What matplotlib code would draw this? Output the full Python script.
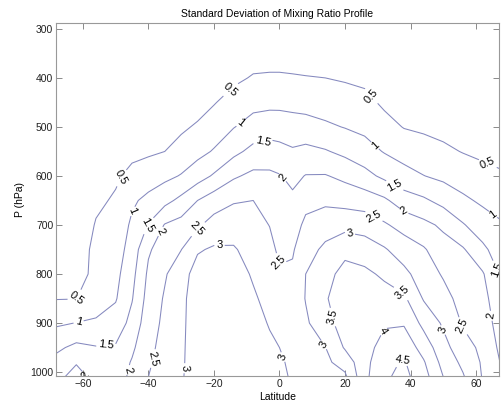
import matplotlib.pyplot as plt
import numpy as np

# MATLAB-like look
plt.rcParams['font.family'] = ['Liberation Sans', 'DejaVu Sans']
plt.rcParams['font.size'] = 7.5

# data: standard deviation of mixing ratio, one profile per latitude
lat = [-69, -62, -56, -50, -45, -40, -35, -30, -25, -20, -14, -8, -3, 0,
       4, 8, 14, 20, 26, 32, 38, 44, 50, 56, 62, 68]
pres = [300, 350, 400, 450, 500, 550, 600, 650, 700, 750, 800, 850, 900, 950, 980, 1010]

sd_by_lat = [
    [0.2, 0.2, 0.2, 0.2, 0.2, 0.2, 0.2, 0.2, 0.2, 0.2, 0.3, 0.48, 0.92, 1.37, 1.62, 1.9],
    [0.2, 0.2, 0.2, 0.2, 0.2, 0.2, 0.2, 0.2, 0.2, 0.2, 0.2, 0.49, 1.01, 1.62, 1.98, 2.1],
    [0.2, 0.2, 0.2, 0.2, 0.2, 0.26, 0.34, 0.42, 0.53, 0.65, 0.7, 0.85, 1.04, 1.53, 1.75, 1.92],
    [0.15, 0.15, 0.15, 0.15, 0.25, 0.35, 0.44, 0.55, 0.65, 0.75, 0.86, 0.96, 1.21, 1.55, 1.7, 1.8],
    [0.15, 0.15, 0.15, 0.2, 0.3, 0.4, 0.61, 0.92, 1.09, 1.22, 1.35, 1.47, 1.66, 1.91, 2.04, 2.1],
    [0.15, 0.15, 0.15, 0.25, 0.35, 0.43, 0.75, 1.13, 1.53, 1.94, 2.09, 2.19, 2.29, 2.38, 2.44, 2.5],
    [0.15, 0.15, 0.15, 0.25, 0.38, 0.5, 0.88, 1.35, 2.03, 2.24, 2.45, 2.55, 2.6, 2.66, 2.7, 2.74],
    [0.15, 0.15, 0.15, 0.3, 0.42, 0.68, 1.03, 1.63, 2.18, 2.49, 2.8, 2.88, 2.9, 2.92, 2.93, 2.95],
    [0.15, 0.15, 0.15, 0.3, 0.56, 0.85, 1.28, 2.0, 2.43, 2.95, 3.2, 3.25, 3.25, 3.25, 3.25, 3.25],
    [0.15, 0.15, 0.25, 0.47, 0.74, 1.04, 1.56, 2.26, 2.69, 3.06, 3.2, 3.28, 3.3, 3.3, 3.3, 3.3],
    [0.15, 0.25, 0.4, 0.69, 0.98, 1.37, 1.93, 2.46, 2.76, 3.05, 3.2, 3.25, 3.28, 3.28, 3.28, 3.28],
    [0.15, 0.3, 0.54, 0.85, 1.2, 1.64, 2.12, 2.5, 2.65, 2.8, 2.95, 3.06, 3.1, 3.12, 3.12, 3.12],
    [0.15, 0.3, 0.56, 0.88, 1.26, 1.72, 2.09, 2.29, 2.49, 2.62, 2.74, 2.86, 2.98, 3.05, 3.08, 3.1],
    [0.15, 0.3, 0.56, 0.88, 1.25, 1.66, 2.03, 2.16, 2.29, 2.42, 2.55, 2.7, 2.85, 3.0, 3.05, 3.08],
    [0.15, 0.3, 0.54, 0.86, 1.2, 1.56, 1.87, 2.1, 2.27, 2.45, 2.58, 2.7, 2.8, 2.88, 2.93, 2.96],
    [0.15, 0.3, 0.52, 0.82, 1.19, 1.63, 2.02, 2.35, 2.61, 2.81, 3.0, 3.02, 2.93, 2.85, 2.82, 2.8],
    [0.15, 0.3, 0.5, 0.77, 1.08, 1.54, 2.03, 2.4, 2.79, 3.1, 3.35, 3.45, 3.3, 2.99, 2.9, 2.85],
    [0.15, 0.28, 0.45, 0.72, 0.98, 1.38, 1.88, 2.33, 2.84, 3.38, 3.65, 3.8, 3.75, 3.55, 3.2, 2.9],
    [0.15, 0.25, 0.4, 0.63, 0.88, 1.2, 1.66, 2.27, 2.78, 3.27, 3.6, 3.72, 3.75, 3.8, 3.85, 3.88],
    [0.1, 0.2, 0.3, 0.42, 0.66, 0.97, 1.39, 2.09, 2.56, 3.05, 3.42, 3.69, 3.94, 4.2, 4.35, 4.42],
    [0.1, 0.15, 0.22, 0.33, 0.48, 0.8, 1.18, 1.73, 2.33, 2.75, 3.13, 3.59, 3.95, 4.33, 4.55, 4.65],
    [0.1, 0.15, 0.2, 0.3, 0.42, 0.7, 1.01, 1.58, 2.13, 2.55, 2.75, 2.96, 3.36, 3.8, 4.05, 4.2],
    [0.1, 0.12, 0.18, 0.26, 0.36, 0.59, 0.89, 1.34, 1.91, 2.21, 2.45, 2.67, 2.93, 3.17, 3.33, 3.5],
    [0.1, 0.12, 0.16, 0.22, 0.3, 0.48, 0.77, 1.09, 1.54, 2.05, 2.19, 2.32, 2.45, 2.7, 2.89, 3.05],
    [0.1, 0.12, 0.15, 0.2, 0.28, 0.4, 0.65, 0.92, 1.23, 1.61, 2.05, 2.19, 2.29, 2.39, 2.44, 2.47],
    [0.1, 0.12, 0.14, 0.18, 0.25, 0.35, 0.55, 0.8, 1.04, 1.21, 1.39, 1.56, 1.71, 1.85, 1.94, 2.03],
]

levels = [0.5, 1, 1.5, 2, 2.5, 3, 3.5, 4, 4.5]

# where the contour labels sit (lat, hPa)
label_pos = {
    0.5: [(-61.3, 851), (-48.2, 604), (-14.9, 424), (27.7, 439), (63.5, 576)],
    1: [(-61.3, 898), (-45.7, 669), (-11.9, 492), (28.7, 541), (65.0, 680)],
    1.5: [(-52.7, 959), (-40.5, 700), (-4.9, 533), (34.8, 624), (64.8, 795)],
    2: [(-58, 1000), (-46, 996), (-35.4, 716), (1.2, 602), (37.8, 673), (64.8, 885)],
    2.5: [(-39.6, 971), (-25.3, 706), (-1.2, 778), (28.7, 684), (55.2, 908)],
    3: [(-29.3, 992), (-18.3, 741), (1.2, 969), (13.4, 945), (21.6, 714), (50, 914)],
    3.5: [(16.2, 888), (37.5, 837)],
    4: [(32.3, 918)],
    4.5: [(37.5, 975)],
}

Z = np.array(sd_by_lat).T

fig = plt.figure(figsize=(5.03, 4.07), dpi=100)
ax = fig.add_axes([56 / 503, 1 - 376 / 407, (499 - 56) / 503, (376 - 23) / 407])

for lev in levels:
    cs = ax.contour(lat, pres, Z, levels=[lev], colors='#8589bf', linewidths=0.75)
    ax.clabel(cs, fmt='%g', fontsize=8, colors='k', inline=True,
              inline_spacing=2, manual=label_pos[lev])

ax.set_xlim(-68.2, 67.0)
ax.set_ylim(1008, 288)
ax.set_xticks([-60, -40, -20, 0, 20, 40, 60])
ax.set_yticks([300, 400, 500, 600, 700, 800, 900, 1000])
ax.tick_params(direction='in', length=4, width=0.6, top=True, right=True,
               colors='#777777', labelcolor='#222222', labelsize=7.5, pad=2)
for axis in ['top', 'bottom', 'left', 'right']:
    ax.spines[axis].set_color('#999999')
    ax.spines[axis].set_linewidth(0.8)

ax.set_title('Standard Deviation of Mixing Ratio Profile', fontsize=7.5, pad=4)
ax.set_xlabel('Latitude', fontsize=7.5, labelpad=2)
ax.set_ylabel('P (hPa)', fontsize=7.5, labelpad=4)

plt.savefig('out.png', dpi=100)
